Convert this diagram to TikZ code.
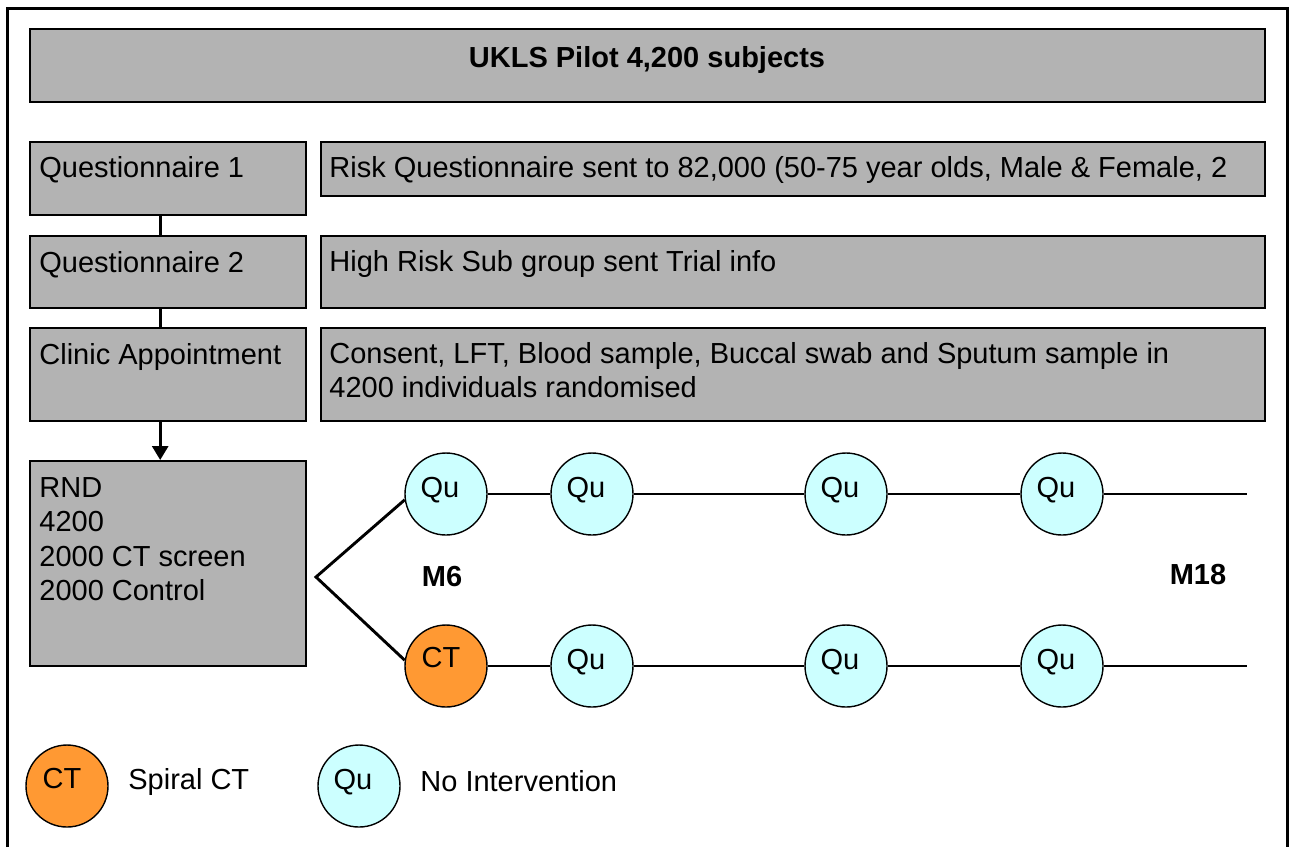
\documentclass[tikz,border=0pt]{standalone}
\usepackage{fontspec}
\setmainfont{Liberation Sans}
\usepackage{xcolor}
\usetikzlibrary{arrows.meta, positioning}

\definecolor{boxgray}{RGB}{179,179,179}
\definecolor{qucyan}{RGB}{204,255,255}
\definecolor{ctorange}{RGB}{255,153,51}

\tikzset{
  stage/.style={draw, line width=1.2pt, fill=boxgray, inner sep=0pt, anchor=north west},
  txt/.style={inner sep=0pt, anchor=base west, align=left, font=\fontsize{14.5}{17.2}\selectfont},
  visit/.style={circle, draw, line width=0.7pt, minimum size=41pt, inner sep=0pt},
  qu/.style={visit, fill=qucyan, label={[txt, anchor=center, xshift=-3pt, yshift=2pt]center:Qu}},
  ct/.style={visit, fill=ctorange, label={[txt, anchor=center, xshift=-2.5pt, yshift=4pt]center:CT}},
  link/.style={line width=1.45pt},
}

\begin{document}
\begin{tikzpicture}[x=0.5pt, y=-0.5pt]
\useasboundingbox (0,0) rectangle (1294,847);
% frame
\draw[line width=1.5pt] (7,847) -- (7,8) -- (1287,8) -- (1287,847);

% header
\node[stage, minimum width=617.5pt, minimum height=36.5pt] (title) at (29,28) {};
\node[txt, anchor=base, font=\fontsize{14.5}{17.2}\selectfont\bfseries] (titletxt) at (647,67) {UKLS Pilot 4,200 subjects};

% steps
\node[stage, minimum width=138pt, minimum height=36.5pt] (q1) at (29,141) {};
\node[txt] (q1txt) at (39,177) {Questionnaire 1};
\node[stage, minimum width=472pt, minimum height=27pt] (risk) at (320,141) {};
\node[txt] (risktxt) at (329,177) {Risk Questionnaire sent to 82,000 (50-75 year olds, Male \& Female, 2};

\node[stage, minimum width=138pt, minimum height=36pt] (q2) at (29,235) {};
\node[txt] (q2txt) at (39,272) {Questionnaire 2};
\node[stage, minimum width=472pt, minimum height=36pt] (high) at (320,235) {};
\node[txt] (hightxt) at (329,271) {High Risk Sub group sent Trial info};

\node[stage, minimum width=138pt, minimum height=46.5pt] (clinic) at (29,327) {};
\node[txt] (clinictxt) at (39,364) {Clinic Appointment};
\node[stage, minimum width=472pt, minimum height=46.5pt] (consent) at (320,327) {};
\node[txt, anchor=west] (consenttxt) at (329,370) {Consent, LFT, Blood sample, Buccal swab and Sputum sample in\\4200 individuals randomised};

\node[stage, minimum width=138pt, minimum height=102.5pt] (rnd) at (29,460) {};
\node[txt, anchor=west] (rndtxt) at (39,539) {RND\\4200\\2000 CT screen\\2000 Control};

\draw[link] ([xshift=-4pt]q1.south) -- ([xshift=-4pt]q2.north);
\draw[link] ([xshift=-4pt]q2.south) -- ([xshift=-4pt]clinic.north);
\draw[link, -{Triangle[length=7pt, width=8pt]}] ([xshift=-4pt]clinic.south) -- ([xshift=-4pt]rnd.north);

% arms
\foreach \i/\x in {1/446,2/592,3/846,4/1062} {
  \node[qu] (t\i) at (\x,494) {};
}
\node[ct] (b1) at (446,666) {};
\foreach \i/\x in {2/592,3/846,4/1062} {
  \node[qu] (b\i) at (\x,666) {};
}
\coordinate (tend) at (1247,494);
\coordinate (bend) at (1247,666);
\coordinate (split) at (316,577);
\foreach \a/\b in {t1/t2,t2/t3,t3/t4,t4/tend,b1/b2,b2/b3,b3/b4,b4/bend}
  \draw[link] (\a) -- (\b);
\draw[link] (t1.188) -- (split) -- (b1.172);

\node[txt, anchor=center, font=\fontsize{14.5}{17.2}\selectfont\bfseries] (m6) at (442,577) {M6};
\node[txt, anchor=center, font=\fontsize{14.5}{17.2}\selectfont\bfseries] (m18) at (1198,575) {M18};

% legend
\node[ct] (lct) at (67,786) {};
\node[txt, anchor=west] (lcttxt) at (128,782) {Spiral CT};
\node[qu] (lqu) at (359,786) {};
\node[txt, anchor=west] (lqutxt) at (420,781) {No Intervention};
\end{tikzpicture}
\end{document}
